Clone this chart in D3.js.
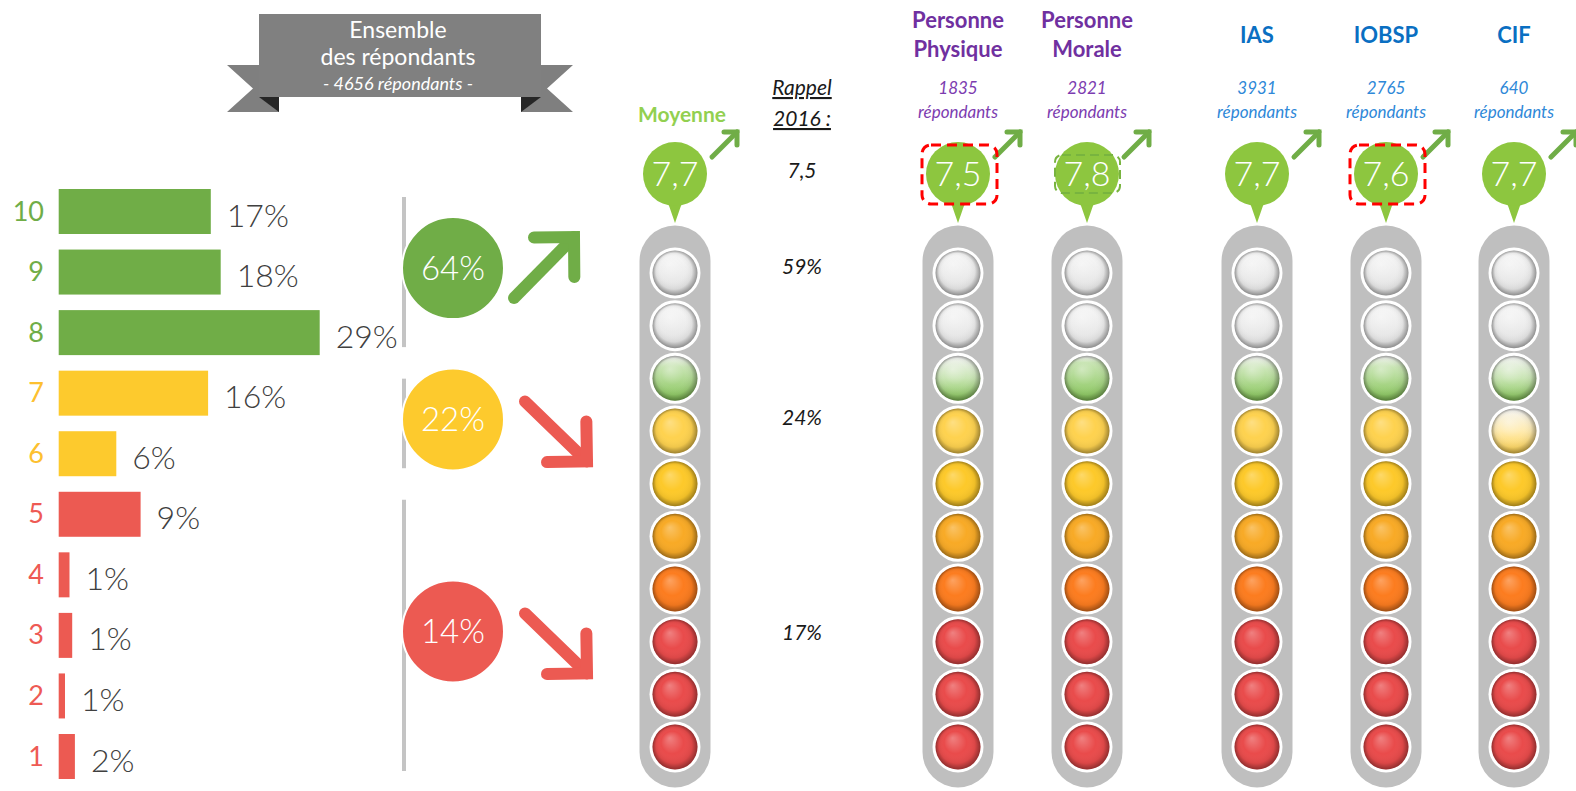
<!DOCTYPE html>
<html><head><meta charset="utf-8">
<script src="https://cdn.jsdelivr.net/npm/d3@7"></script>
<style>html,body{margin:0;padding:0;background:#fff;overflow:hidden}</style>
</head><body>
<script>
// ---------- DATA ----------
const categories = [10, 9, 8, 7, 6, 5, 4, 3, 2, 1];
const shares = [16.9, 18.0, 29.0, 16.6, 6.4, 9.1, 1.2, 1.5, 0.7, 1.8];
const shareLabels = ["17%", "18%", "29%", "16%", "6%", "9%", "1%", "1%", "1%", "2%"];
const groupShares = ["64%", "22%", "14%"];
const groupScores = [[10, 9, 8], [7, 6], [5, 4, 3, 2, 1]];
const groupTrend = ["up", "down", "down"];
const rappelTitle = ["Rappel", "2016 :"];
const rappelScore = "7,5";
const rappelShares = ["59%", "24%", "17%"];
const bannerLines = ["Ensemble", "des répondants", "- 4656 répondants -"];
const columns = ["Moyenne", "Personne Physique", "Personne Morale", "IAS", "IOBSP", "CIF"];
const columnCounts = [null, "1835", "2821", "3931", "2765", "640"];
const columnScores = ["7,7", "7,5", "7,8", "7,7", "7,6", "7,7"];
const bulb8Fill = [0.75, 0.5, 0.85, 0.7, 0.75, 0.5];
const bulb7Fill = [1, 1, 1, 1, 1, 0.5];
const columnHighlight = [null, "red", "green", null, "red", null];

// ---------- LAYOUT ----------
const W = 1576, H = 791;
const colX = [675, 958, 1087, 1257, 1386, 1514];
const FONT_GEO = "Lato, 'Open Sans', sans-serif";
const FONT_TXT = "Lato, 'Liberation Sans', sans-serif";
const GREEN = "#70ad47", YELLOW = "#fdca2d", RED = "#ec5a52";
const scoreColor = s => s >= 8 ? GREEN : (s >= 6 ? YELLOW : RED);
const labelColor = s => s >= 8 ? "#70ad47" : (s >= 6 ? "#fdc030" : "#ee5a54");
const bulbColor = s => s >= 9 ? null : s === 8 ? "#86c558" : s === 7 ? "#fed24f" : s === 6 ? "#fdc92a" : s === 5 ? "#f8aa26" : s === 4 ? "#fc7c1f" : "#e94b4b";

const svg = d3.select("body").append("svg").attr("width", W).attr("height", H);
const defs = svg.append("defs");

// ---------- BANNER ----------
const banner = svg.append("g");
banner.append("polygon").attr("points", "227,65 279,65 279,112 227,112 253,88.5").attr("fill", "#7f7f7f");
banner.append("polygon").attr("points", "573,65 521,65 521,112 573,112 547,88.5").attr("fill", "#7f7f7f");
banner.append("rect").attr("x", 259).attr("y", 14).attr("width", 282).attr("height", 83).attr("fill", "#808080");
banner.append("polygon").attr("points", "259,97 279,97 279,112").attr("fill", "#262626");
banner.append("polygon").attr("points", "541,97 521,97 521,112").attr("fill", "#262626");
banner.selectAll("text").data(bannerLines).join("text")
  .attr("x", 398).attr("y", (d, i) => [38, 65, 90][i])
  .attr("text-anchor", "middle").attr("fill", "#fff")
  .attr("font-family", FONT_TXT)
  .attr("font-size", (d, i) => i < 2 ? 23 : 18)
  .attr("font-style", (d, i) => i === 2 ? "italic" : "normal")
  .text(d => d);

// ---------- LEFT BAR CHART ----------
const x = d3.scaleLinear().domain([0, 30]).range([0, 270]);
const y = d3.scalePoint().domain(categories).range([211.5, 756.5]);
const barH = 45, barX0 = 58.7;
const left = svg.append("g");
left.selectAll("rect.bar").data(categories).join("rect").attr("class", "bar")
  .attr("x", barX0).attr("y", d => y(d) - barH / 2)
  .attr("width", (d, i) => x(shares[i])).attr("height", barH)
  .attr("fill", d => scoreColor(d));
left.selectAll("text.cat").data(categories).join("text").attr("class", "cat")
  .attr("x", 44).attr("y", d => y(d) + 9)
  .attr("text-anchor", "end").attr("font-family", FONT_TXT).attr("font-size", 27)
  .attr("fill", d => labelColor(d)).text(d => d);
left.selectAll("text.val").data(categories).join("text").attr("class", "val")
  .attr("x", (d, i) => barX0 + x(shares[i]) + 16).attr("y", d => y(d) + 15)
  .attr("font-family", FONT_GEO).attr("font-weight", 300).attr("font-size", 32)
  .attr("fill", "#404040").text((d, i) => shareLabels[i]);

// separators + group circles + arrows
const groups = svg.append("g");
groupScores.forEach((g, i) => {
  const top = y(g[0]) - barH / 2 + 8, bot = y(g[g.length - 1]) + barH / 2 - 8;
  groups.append("line").attr("x1", 404).attr("x2", 404).attr("y1", top).attr("y2", bot)
    .attr("stroke", "#c4c4c4").attr("stroke-width", 4);
});
const groupY = groupScores.map(g => d3.mean(g, s => y(s)) - 4);
groups.selectAll("circle").data(groupShares).join("circle")
  .attr("cx", 453).attr("cy", (d, i) => groupY[i]).attr("r", 51)
  .attr("fill", (d, i) => scoreColor(groupScores[i][0]))
  .attr("stroke", "#fff").attr("stroke-width", 2);
groups.selectAll("text").data(groupShares).join("text")
  .attr("x", 453).attr("y", (d, i) => groupY[i] + 12)
  .attr("text-anchor", "middle").attr("fill", "#fff")
  .attr("font-family", FONT_GEO).attr("font-weight", 300).attr("font-size", 33).text(d => d);

function arrow(g, x1, y1, x2, y2, arm, w, color) {
  const L = Math.hypot(x1 - x2, y1 - y2), ux = (x1 - x2) / L, uy = (y1 - y2) / L;
  const rot = a => [ux * Math.cos(a) - uy * Math.sin(a), ux * Math.sin(a) + uy * Math.cos(a)];
  const r1 = rot(Math.PI / 4), r2 = rot(-Math.PI / 4);
  g.append("path").attr("d", `M${x1},${y1}L${x2},${y2}`)
    .attr("stroke", color).attr("stroke-width", w).attr("stroke-linecap", "round").attr("fill", "none");
  g.append("path").attr("d", `M${x2 + r1[0] * arm},${y2 + r1[1] * arm}L${x2},${y2}L${x2 + r2[0] * arm},${y2 + r2[1] * arm}`)
    .attr("stroke", color).attr("stroke-width", w).attr("stroke-linecap", "round")
    .attr("stroke-linejoin", "miter").attr("fill", "none");
}
groupTrend.forEach((t, i) => {
  const cy = groupY[i];
  if (t === "up") arrow(groups, 514, cy + 30, 574, cy - 31, 40, 12, GREEN);
  else arrow(groups, 525, cy - 18, 587, cy + 42, 40, 12, RED);
});

// ---------- TRAFFIC LIGHTS ----------
const by = d3.scalePoint().domain(categories).range([273, 747]);
const shade = defs.append("radialGradient").attr("id", "shade")
  .attr("cx", "50%").attr("cy", "50%").attr("r", "50%").attr("fx", "38%").attr("fy", "30%");
shade.append("stop").attr("offset", "0").attr("stop-color", "#fff").attr("stop-opacity", 0.3);
shade.append("stop").attr("offset", "0.5").attr("stop-color", "#fff").attr("stop-opacity", 0);
shade.append("stop").attr("offset", "0.8").attr("stop-color", "#000").attr("stop-opacity", 0.06);
shade.append("stop").attr("offset", "1").attr("stop-color", "#000").attr("stop-opacity", 0.38);

const lights = svg.append("g");
columns.forEach((name, c) => {
  const cx = colX[c];
  const g = lights.append("g");
  // tube
  g.append("path").attr("d", `M${cx - 35.5},${752} V${261} A35.5,35.5 0 0 1 ${cx + 35.5},${261} V${752} A35.5,35.5 0 0 1 ${cx - 35.5},${752} Z`)
    .attr("fill", "#bfbfbf");
  categories.forEach(s => {
    const col = bulbColor(s);
    const fill = s >= 9 ? 0 : s === 8 ? bulb8Fill[c] : s === 7 ? bulb7Fill[c] : 1;
    const id = `b${c}_${s}`;
    const lg = defs.append("linearGradient").attr("id", id).attr("x1", 0).attr("y1", 0).attr("x2", 0).attr("y2", 1);
    let stops;
    if (!col || fill === 0) stops = [[0, "#f8f8f8"], [1, "#e2e2e2"]];
    else if (fill >= 1) stops = [[0, col], [1, col]];
    else stops = [[0, "#f6f6f6"], [1 - fill, d3.interpolateRgb("#ffffff", col)(0.45)], [1, col]];
    stops.forEach(st => lg.append("stop").attr("offset", st[0]).attr("stop-color", st[1]));
    const yy = by(s);
    g.append("circle").attr("cx", cx).attr("cy", yy).attr("r", 25.5).attr("fill", "#fff");
    g.append("circle").attr("cx", cx).attr("cy", yy).attr("r", 22.5).attr("fill", `url(#${id})`);
    g.append("circle").attr("cx", cx).attr("cy", yy).attr("r", 22.5).attr("fill", "url(#shade)");
  });
  // speech bubble
  const bcy = 174;
  g.append("path").attr("d", `M${cx - 8},${bcy + 26} L${cx},${223} L${cx + 8},${bcy + 26} Z`).attr("fill", "#8dc63f");
  g.append("circle").attr("cx", cx).attr("cy", bcy).attr("r", 32).attr("fill", "#8dc63f");
  g.append("text").attr("x", cx).attr("y", bcy + 12).attr("text-anchor", "middle")
    .attr("fill", "#fff").attr("font-family", FONT_GEO).attr("font-weight", 300).attr("font-size", 34)
    .text(columnScores[c]);
  arrow(g, cx + 37, 157, cx + 62, 132, 13, 5, GREEN);
  if (columnHighlight[c] === "red") {
    g.append("rect").attr("x", cx - 36).attr("y", 145).attr("width", 75).attr("height", 59).attr("rx", 9)
      .attr("fill", "none").attr("stroke", "#ff0000").attr("stroke-width", 3).attr("stroke-dasharray", "10,6");
  } else if (columnHighlight[c] === "green") {
    g.append("rect").attr("x", cx - 32).attr("y", 155).attr("width", 65).attr("height", 38).attr("rx", 7)
      .attr("fill", "none").attr("stroke", "#78b43f").attr("stroke-width", 2).attr("stroke-dasharray", "9,5");
  }
  // headers
  if (c === 0) {
    g.append("text").attr("x", cx + 7).attr("y", 122).attr("text-anchor", "middle")
      .attr("fill", "#92d050").attr("font-family", FONT_TXT).attr("font-weight", 700).attr("font-size", 21).text(name);
  } else {
    const purple = c <= 2;
    const hc = purple ? "#7030a0" : "#0a6fc2";
    const cc = purple ? "#7c3cb0" : "#2e88d8";
    const lines = purple ? name.split(" ") : [name];
    const ys = purple ? [28, 57] : [43];
    lines.forEach((ln, i) => g.append("text").attr("x", cx).attr("y", ys[i]).attr("text-anchor", "middle")
      .attr("fill", hc).attr("font-family", FONT_TXT).attr("font-weight", 700).attr("font-size", 22).text(ln));
    g.append("text").attr("x", cx).attr("y", 94).attr("text-anchor", "middle").attr("fill", cc)
      .attr("font-family", FONT_TXT).attr("font-style", "italic").attr("font-size", 17).text(columnCounts[c]);
    g.append("text").attr("x", cx).attr("y", 118).attr("text-anchor", "middle").attr("fill", cc)
      .attr("font-family", FONT_TXT).attr("font-style", "italic").attr("font-size", 17).text("répondants");
  }
});

// ---------- RAPPEL 2016 ----------
const rap = svg.append("g").attr("font-family", FONT_TXT).attr("font-style", "italic").attr("fill", "#1a1a1a");
rappelTitle.forEach((t, i) => rap.append("text").attr("x", 802).attr("y", [95, 126][i])
  .attr("text-anchor", "middle").attr("font-size", 21).attr("text-decoration", "underline").text(t));
rap.append("text").attr("x", 802).attr("y", 178).attr("text-anchor", "middle").attr("font-size", 21).text(rappelScore);
rap.selectAll("text.rs").data(rappelShares).join("text").attr("class", "rs")
  .attr("x", 802).attr("y", (d, i) => groupY[i] + 6 + [0, 0, 3][i])
  .attr("text-anchor", "middle").attr("font-size", 21).text(d => d);
</script>
</body></html>
